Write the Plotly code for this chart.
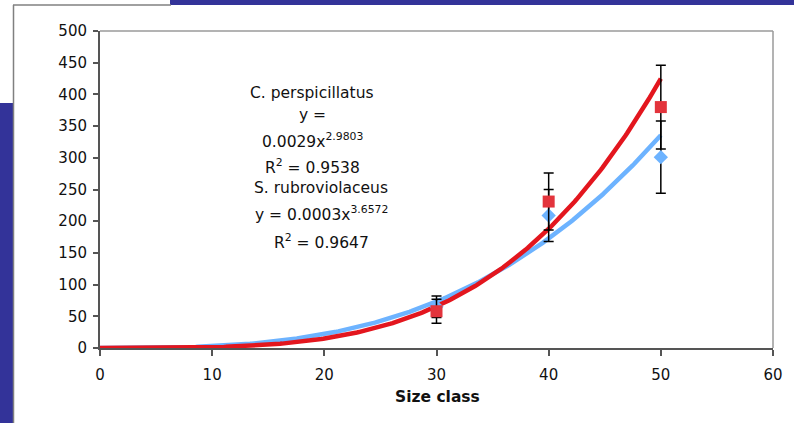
import numpy as np
import plotly.graph_objects as go

# ---- data ----
size_class = [30, 40, 50]
c_persp_mean = [65, 209, 301]      # blue diamonds
c_persp_err = [17, 41, 57]
s_rubro_mean = [58, 231, 380]      # red squares
s_rubro_err = [19, 45, 66]

# power trendlines y = a * x^b
c_persp_a, c_persp_b = 0.0029, 2.9803
s_rubro_a, s_rubro_b = 0.00026, 3.6572   # label shows 0.0003 (rounded)

x_ticks = [0, 10, 20, 30, 40, 50, 60]
y_ticks = [0, 50, 100, 150, 200, 250, 300, 350, 400, 450, 500]

label_lines = [
    "C. perspicillatus",
    "y =",
    "0.0029x<sup>2.9803</sup>",
    "R<sup>2</sup> = 0.9538",
    "S. rubroviolaceus",
    "y = 0.0003x<sup>3.6572</sup>",
    "R<sup>2</sup> = 0.9647",
]

BLUE = "#6db3ff"
RED = "#e3161e"
SQ_RED = "#e3343c"

W, H = 794, 423
L, R, T, B = 100, 21, 31, 75
pw, ph = W - L - R, H - T - B


def px(x):
    return (x - L) / pw


def py(y):
    return (H - B - y) / ph


# label placement (pixel centres)
label_px_x = [312, 312, 312, 312, 321, 321, 321]
label_px_y = [93, 115, 140, 166, 188, 213, 241]

xs = np.linspace(0, 50, 300)

fig = go.Figure()
fig.add_trace(go.Scatter(x=xs, y=c_persp_a * xs ** c_persp_b, mode="lines",
                         line=dict(color=BLUE, width=4.5), hoverinfo="skip"))
fig.add_trace(go.Scatter(x=xs, y=s_rubro_a * xs ** s_rubro_b, mode="lines",
                         line=dict(color=RED, width=4.5), hoverinfo="skip"))
fig.add_trace(go.Scatter(x=size_class, y=c_persp_mean, mode="markers",
                         marker=dict(symbol="diamond", size=11, color=BLUE),
                         error_y=dict(type="data", array=c_persp_err, visible=True,
                                      color="black", thickness=1.5, width=5)))
fig.add_trace(go.Scatter(x=size_class, y=s_rubro_mean, mode="markers",
                         marker=dict(symbol="square", size=12, color=SQ_RED),
                         error_y=dict(type="data", array=s_rubro_err, visible=True,
                                      color="black", thickness=1.5, width=5)))

shapes = [
    # blue slide background pieces
    dict(type="rect", xref="paper", yref="paper", x0=px(170), x1=px(800),
         y0=py(5), y1=py(-2), fillcolor="#333399", line=dict(width=0), layer="below"),
    dict(type="rect", xref="paper", yref="paper", x0=px(-2), x1=px(13),
         y0=py(430), y1=py(103), fillcolor="#333399", line=dict(width=0), layer="below"),
    # chart frame
    dict(type="line", xref="paper", yref="paper", x0=px(13.5), x1=px(13.5),
         y0=py(5), y1=py(430), line=dict(color="#808080", width=1.5)),
    dict(type="line", xref="paper", yref="paper", x0=px(13), x1=px(171),
         y0=py(5), y1=py(5), line=dict(color="#808080", width=1.5)),
    # plot area top/right border
    dict(type="line", xref="paper", yref="paper", x0=0, x1=1, y0=1, y1=1,
         line=dict(color="#9a9a9a", width=1.5)),
    dict(type="line", xref="paper", yref="paper", x0=1, x1=1, y0=0, y1=1,
         line=dict(color="#9a9a9a", width=1.5)),
]

annotations = [
    dict(x=px(xx), y=py(yy), xref="paper", yref="paper", text=t, showarrow=False,
         xanchor="center", yanchor="middle",
         font=dict(family="DejaVu Sans", size=15.5, color="#111"))
    for t, xx, yy in zip(label_lines, label_px_x, label_px_y)
]
annotations.append(dict(x=px(437), y=py(397), xref="paper", yref="paper",
                        text="<b>Size class</b>", showarrow=False,
                        xanchor="center", yanchor="middle",
                        font=dict(family="DejaVu Sans", size=15.5, color="#111")))

fig.update_layout(
    width=W, height=H,
    margin=dict(l=L, r=R, t=T, b=B),
    paper_bgcolor="white", plot_bgcolor="white",
    showlegend=False,
    shapes=shapes, annotations=annotations,
    font=dict(family="DejaVu Sans", size=15, color="#111"),
    xaxis=dict(range=[0, 60], tickvals=x_ticks, showgrid=False, zeroline=False,
               showline=True, linecolor="#555", linewidth=2,
               ticks="outside", ticklen=6, tickcolor="#555", tickwidth=1.5,
               ticklabelstandoff=6),
    yaxis=dict(range=[0, 500], tickvals=y_ticks, showgrid=False, zeroline=False,
               showline=True, linecolor="#555", linewidth=2,
               ticks="outside", ticklen=5, tickcolor="#555", tickwidth=1.5,
               ticklabelstandoff=3),
)

fig.write_html("out.html")
